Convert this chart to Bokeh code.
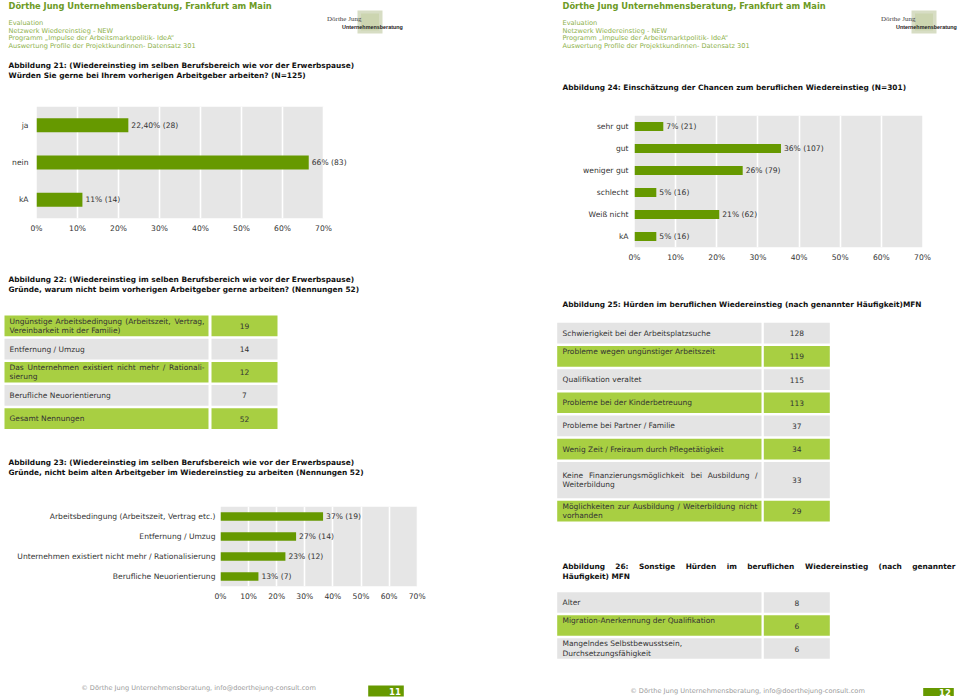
from bokeh.plotting import figure
from bokeh.models import (Range1d, FixedTicker, PrintfTickFormatter, LabelSet,
                          ColumnDataSource, BoxAnnotation)
from bokeh.layouts import row, column
from bokeh.embed import file_html
from bokeh.resources import INLINE
from bokeh.core.properties import value

# ---------------- data ----------------
header_title = "Dörthe Jung Unternehmensberatung, Frankfurt am Main"
header_lines = ["Evaluation", "Netzwerk Wiedereinstieg - NEW",
                "Programm „Impulse der Arbeitsmarktpolitik- IdeA“",
                "Auswertung Profile der Projektkundinnen- Datensatz 301"]
logo_top = "Dörthe Jung"
logo_bottom = "Unternehmensberatung"

t21 = ["Abbildung 21: (Wiedereinstieg im selben Berufsbereich wie vor der Erwerbspause)",
       "Würden Sie gerne bei Ihrem vorherigen Arbeitgeber arbeiten? (N=125)"]
t22 = ["Abbildung 22: (Wiedereinstieg im selben Berufsbereich wie vor der Erwerbspause)",
       "Gründe, warum nicht beim vorherigen Arbeitgeber gerne arbeiten? (Nennungen 52)"]
t23 = ["Abbildung 23: (Wiedereinstieg im selben Berufsbereich wie vor der Erwerbspause)",
       "Gründe, nicht beim alten Arbeitgeber im Wiedereinstieg zu arbeiten (Nennungen 52)"]
t24 = ["Abbildung 24: Einschätzung der Chancen zum beruflichen Wiedereinstieg (N=301)"]
t25 = ["Abbildung 25: Hürden im beruflichen Wiedereinstieg (nach genannter Häufigkeit)MFN"]
t26 = ["Abbildung 26: Sonstige Hürden im beruflichen Wiedereinstieg (nach genannter",
       "Häufigkeit) MFN"]

c21_cats = ["ja", "nein", "kA"]
c21_vals = [22.4, 66.4, 11.2]
c21_labels = ["22,40% (28)", "66% (83)", "11% (14)"]

c23_cats = ["Arbeitsbedingung (Arbeitszeit, Vertrag etc.)", "Entfernung / Umzug",
            "Unternehmen existiert nicht mehr / Rationalisierung", "Berufliche Neuorientierung"]
c23_vals = [36.5, 26.9, 23.1, 13.5]
c23_labels = ["37% (19)", "27% (14)", "23% (12)", "13% (7)"]

c24_cats = ["sehr gut", "gut", "weniger gut", "schlecht", "Weiß nicht", "kA"]
c24_vals = [7.0, 35.6, 26.3, 5.3, 20.6, 5.3]
c24_labels = ["7% (21)", "36% (107)", "26% (79)", "5% (16)", "21% (62)", "5% (16)"]

x_ticks = [0, 10, 20, 30, 40, 50, 60, 70]

t22_rows = [["Ungünstige Arbeitsbedingung (Arbeitszeit, Vertrag,", "Vereinbarkeit mit der Familie)"],
            ["Entfernung / Umzug"],
            ["Das Unternehmen existiert nicht mehr / Rationali-", "sierung"],
            ["Berufliche Neuorientierung"],
            ["Gesamt Nennungen"]]
t22_vals = [19, 14, 12, 7, 52]

t25_rows = [["Schwierigkeit bei der Arbeitsplatzsuche"],
            ["Probleme wegen ungünstiger Arbeitszeit"],
            ["Qualifikation veraltet"],
            ["Probleme bei der Kinderbetreuung"],
            ["Probleme bei Partner / Familie"],
            ["Wenig Zeit / Freiraum durch Pflegetätigkeit"],
            ["Keine Finanzierungsmöglichkeit bei Ausbildung /", "Weiterbildung"],
            ["Möglichkeiten zur Ausbildung / Weiterbildung nicht", "vorhanden"]]
t25_vals = [128, 119, 115, 113, 37, 34, 33, 29]

t26_rows = [["Alter"],
            ["Migration-Anerkennung der Qualifikation"],
            ["Mangelndes Selbstbewusstsein,", "Durchsetzungsfähigkeit"]]
t26_vals = [8, 6, 6]

footer = "© Dörthe Jung Unternehmensberatung, info@doerthejung-consult.com"
page_numbers = ["11", "12"]

# ---------------- style ----------------
FONT = "DejaVu Sans"
BAR = "#669900"
TGREEN = "#a8cf42"
TGRAY = "#e4e4e4"
PLOTBG = "#e6e6e6"
HDR = "#6c9a25"
HDR2 = "#8db14a"
TXT = "#333333"
TITLE = "#111111"
TSIZE = "7.5px"
TITLE_SIZE = "7.4px"

# approximate DejaVu Sans advance widths (em) used only to justify lines
W_NORMAL = {' ': .318, ',': .318, '-': .361, '.': .318, '/': .337, '(': .390, ')': .390,
            'A': .684, 'D': .770, 'F': .575, 'K': .656, 'M': .863, 'R': .695, 'U': .732,
            'V': .684, 'W': .989, 'a': .613, 'b': .635, 'c': .550, 'd': .635, 'e': .615,
            'f': .352, 'g': .635, 'h': .634, 'i': .278, 'j': .278, 'k': .579, 'l': .278,
            'm': .974, 'n': .634, 'o': .612, 'p': .635, 'r': .411, 's': .521, 't': .392,
            'u': .634, 'v': .592, 'w': .818, 'x': .592, 'z': .525, 'ä': .613, 'ö': .612,
            'ü': .634, 'ß': .623}
W_BOLD = {' ': .348, '(': .457, ')': .457, ',': .380, ':': .400, '2': .696, '6': .696,
          'A': .774, 'H': .837, 'S': .720, 'W': 1.103, 'a': .675, 'b': .716, 'c': .593,
          'd': .716, 'e': .678, 'f': .435, 'g': .716, 'h': .712, 'i': .343, 'l': .343,
          'm': 1.042, 'n': .712, 'o': .687, 'r': .493, 's': .595, 't': .478, 'u': .712,
          'ü': .712}


def no_align(p):
    try:
        p.frame_align = False
    except Exception:
        pass


def blank(w, h):
    p = figure(width=w, height=h, x_range=Range1d(0, w), y_range=Range1d(h, 0),
               output_backend="svg", toolbar_location=None,
               x_axis_location=None, y_axis_location=None, min_border=0)
    no_align(p)
    p.grid.visible = False
    p.outline_line_color = None
    p.background_fill_color = "white"
    p.border_fill_color = "white"
    return p


def put(p, x, y, s, size=TSIZE, bold=False, color=TXT, align="left", font=FONT):
    p.text(x=[x], y=[y], text=[s], text_font=value(font), text_font_size=size,
           text_font_style="bold" if bold else "normal", text_color=color,
           text_align=align, text_baseline="middle")


def put_justified(p, x0, x1, y, s, size=TSIZE, bold=False, color=TXT):
    words = s.split(" ")
    px = float(size.replace("px", ""))
    tab = W_BOLD if bold else W_NORMAL
    widths = [sum(tab.get(ch, .6) for ch in w) * px for w in words]
    gap = (x1 - x0 - sum(widths)) / (len(words) - 1)
    x = x0
    for i, (w, wd) in enumerate(zip(words, widths)):
        if i == len(words) - 1:
            put(p, x1, y, w, size, bold, color, align="right")
        else:
            put(p, x, y, w, size, bold, color)
        x += wd + gap


def header(p, x0, logo_x):
    put(p, x0, 5, header_title, "8.3px", True, HDR)
    for i, s in enumerate(header_lines):
        put(p, x0, 22.3 + 7.7 * i, s, "6.6px", False, HDR2)
    p.quad(left=[logo_x + 30.5], right=[logo_x + 55.5], top=[10], bottom=[33],
           fill_color="#d7ddc4", line_color=None)
    p.quad(left=[logo_x + 34], right=[logo_x + 52], top=[13], bottom=[30],
           fill_color="#ccd5b0", line_color=None)
    put(p, logo_x, 18.5, logo_top, "7px", False, "#444444", font="Liberation Serif")
    put(p, logo_x + 15, 26.7, logo_bottom, "5.4px", True, "#222222", font="Liberation Sans")


def title(p, x, y, lines, step=10, justify_to=None):
    for i, s in enumerate(lines):
        if justify_to is not None and i < len(lines) - 1:
            put_justified(p, x, justify_to, y + i * step, s, TITLE_SIZE, True, TITLE)
        else:
            put(p, x, y + i * step, s, TITLE_SIZE, True, TITLE)


def bar_chart(w, h, cats, vals, labels, borders, bar_h, standoff, px70):
    """borders = (left, right, top, bottom); px70 = pixel length of the 0..70 % span"""
    n = len(cats)
    frame_w = w - borders[0] - borders[1]
    xmax = 70.0 * frame_w / px70
    p = figure(width=w, height=h, x_range=Range1d(0, xmax), y_range=Range1d(n - 0.5, -0.5),
               output_backend="svg", toolbar_location=None,
               min_border_left=borders[0], min_border_right=borders[1],
               min_border_top=borders[2], min_border_bottom=borders[3])
    no_align(p)
    p.background_fill_color = "white"
    p.border_fill_color = "white"
    p.outline_line_color = None
    p.add_layout(BoxAnnotation(left=0, right=70, fill_color=PLOTBG, fill_alpha=1.0,
                               line_color=None, level="image"))
    p.ygrid.visible = False
    p.xgrid.grid_line_color = "white"
    p.xgrid.grid_line_width = 1.6
    p.xaxis.ticker = FixedTicker(ticks=x_ticks)
    p.xaxis.formatter = PrintfTickFormatter(format="%d%%")
    p.yaxis.ticker = FixedTicker(ticks=list(range(n)))
    p.yaxis.major_label_overrides = {i: c for i, c in enumerate(cats)}
    for ax in p.axis:
        ax.axis_line_color = None
        ax.major_tick_line_color = None
        ax.minor_tick_line_color = None
        ax.major_tick_in = 0
        ax.major_tick_out = 0
        ax.minor_tick_in = 0
        ax.minor_tick_out = 0
        ax.major_label_text_font = FONT
        ax.major_label_text_font_size = "7.6px"
        ax.major_label_text_color = TXT
    p.xaxis.major_label_standoff = 5
    p.yaxis.major_label_standoff = standoff
    src = ColumnDataSource(dict(y=list(range(n)), v=vals, t=labels))
    p.hbar(y="y", right="v", left=0, height=bar_h, source=src,
           fill_color=BAR, line_color=None)
    p.add_layout(LabelSet(x="v", y="y", text="t", source=src, x_offset=3,
                          text_baseline="middle", text_font=value(FONT),
                          text_font_size=value("7.6px"), text_color=TXT))
    return p


def table(p, cols, top0, pitch, gap, rows, vals, fills, weights, top_rows, text_x,
          line_h=9.0, justified=()):
    n = len(rows)
    tops, bots = [], []
    t = top0
    for wgt in weights:
        tops.append(t)
        bots.append(t + wgt * pitch - gap)
        t += wgt * pitch
    (l0, r0), (l1, r1) = cols
    p.quad(left=[l0] * n, right=[r0] * n, top=tops, bottom=bots, fill_color=fills, line_color=None)
    p.quad(left=[l1] * n, right=[r1] * n, top=tops, bottom=bots, fill_color=fills, line_color=None)
    for i, lines in enumerate(rows):
        c = (tops[i] + bots[i]) / 2
        if i in top_rows:
            ys = [tops[i] + 5.5 + k * line_h for k in range(len(lines))]
        else:
            ys = [c + (k - (len(lines) - 1) / 2) * line_h for k in range(len(lines))]
        for k, (s, y) in enumerate(zip(lines, ys)):
            if i in justified and k < len(lines) - 1:
                put_justified(p, text_x, r0 - 4, y, s)
            else:
                put(p, text_x, y, s)
        put(p, (l1 + r1) / 2, c, str(vals[i]), align="center")


def page_footer(p, cx, y_text, box, num):
    put(p, cx, y_text, footer, "6.6px", False, "#9a9a9a", align="center")
    p.quad(left=[box[0]], right=[box[1]], top=[box[2]], bottom=[box[3]],
           fill_color=BAR, line_color=None)
    put(p, box[1] - 3, (box[2] + box[3]) / 2, num, "8.5px", True, "white", align="right")


alt_g = [TGREEN if i % 2 == 0 else TGRAY for i in range(8)]
alt_w = [TGRAY if i % 2 == 0 else TGREEN for i in range(8)]

# ---------------- left page (x = page px, 480 wide) ----------------
L1 = blank(480, 100)
header(L1, 8, 326.5)
title(L1, 8, 64.5, t21)

L2 = bar_chart(480, 140, c21_cats, c21_vals, c21_labels, (36, 100, 6, 22), 0.375, 8, 287)

L3 = blank(480, 256)
title(L3, 8, 38.5, t22)
table(L3, ((4, 208), (211, 277)), 75, 23.2, 2.5, t22_rows, t22_vals, alt_g[:5],
      [1] * 5, [], 9, 9.0, justified=(0, 2))
title(L3, 8, 221.7, t23)

L4 = bar_chart(480, 114, c23_cats, c23_vals, c23_labels, (220, 63, 10, 24), 0.42, 5, 196.7)

L5 = blank(480, 87)
page_footer(L5, 198, 77.5, (367.7, 403.3, 75, 86), page_numbers[0])

# ---------------- right page (x = page px - 480, 479 wide) ----------------
R1 = blank(479, 105)
header(R1, 82, 400.5)
title(R1, 82, 87.3, t24)

R2 = bar_chart(479, 165, c24_cats, c24_vals, c24_labels, (154, 37, 10, 23), 0.4, 6, 288)

R3 = blank(479, 427)
title(R3, 82, 34.3, t25)
table(R3, ((76.7, 281), (283.3, 349.3)), 52.3, 23.2, 2.5, t25_rows, t25_vals, alt_w[:8],
      [1, 1, 1, 1, 1, 1, 1.67, 1], [1], 82, 8.5, justified=(6, 7))
title(R3, 82, 296, t26, 9.7, justify_to=475)
table(R3, ((76.7, 281), (283.3, 349.3)), 321.7, 23.0, 2.4, t26_rows, t26_vals, alt_w[:3],
      [1, 1, 1], [1], 82, 9.2)
page_footer(R3, 267, 420, (442.7, 473.3, 417.5, 425.5), page_numbers[1])

layout = row(column(L1, L2, L3, L4, L5), column(R1, R2, R3))

open("out.html", "w").write(file_html(layout, INLINE))
